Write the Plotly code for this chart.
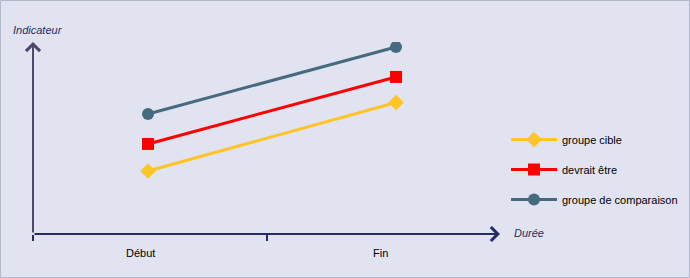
import plotly.graph_objects as go

# ---- data ----
categories = ["Début", "Fin"]
cat_pos = [0, 1]
groupe_cible = [3.28, 6.85]
devrait_etre = [4.69, 8.18]
groupe_comparaison = [6.25, 9.74]
series_names = ["groupe cible", "devrait être", "groupe de comparaison"]

# ---- layout geometry ----
W, H = 690, 278
L, R, T, B = 33, 190, 42, 44
PW, PH = W - L - R, H - T - B
XMIN, XMAX = -0.4637, 1.4194
YMIN, YMAX = 0, 10

def px(x):
    return (x - L) / PW

def py(y):
    return (H - B - y) / PH

NAVY = "#262a66"
GREY = "#4a4a68"
FONT = "Liberation Sans, Arial, sans-serif"

fig = go.Figure()
styles = [
    dict(color="#ffc425", symbol="diamond", size=12),
    dict(color="#ff0000", symbol="square", size=12),
    dict(color="#466a7f", symbol="circle", size=12),
]
for name, vals, st in zip(series_names, [groupe_cible, devrait_etre, groupe_comparaison], styles):
    fig.add_trace(go.Scatter(
        x=cat_pos, y=vals, name=name, mode="lines+markers",
        line=dict(color=st["color"], width=3),
        marker=dict(color=st["color"], symbol=st["symbol"], size=st["size"], line=dict(width=0)),
        legendgroup=name, hoverinfo="skip",
    ))

annotations = [
    # x axis arrow
    dict(x=XMAX, y=YMIN, ax=XMIN, ay=YMIN, xref="x", yref="y", axref="x", ayref="y",
         text="", showarrow=True, arrowhead=4, arrowsize=1.35, arrowwidth=2, arrowcolor=NAVY),
    # y axis arrow
    dict(x=XMIN, y=YMAX, ax=XMIN, ay=YMIN, xref="x", yref="y", axref="x", ayref="y",
         text="", showarrow=True, arrowhead=4, arrowsize=1.35, arrowwidth=2, arrowcolor=GREY),
    dict(x=px(11), y=py(30), xref="paper", yref="paper", xanchor="left", yanchor="middle",
         text="<i>Indicateur</i>", showarrow=False, font=dict(family=FONT, size=11, color=NAVY)),
    dict(x=px(512), y=py(233), xref="paper", yref="paper", xanchor="left", yanchor="middle",
         text="<i>Durée</i>", showarrow=False, font=dict(family=FONT, size=11, color=NAVY)),
]
label_shift = [-8, -15]
for c, p, s in zip(categories, cat_pos, label_shift):
    annotations.append(dict(x=p, y=py(253), xref="x", yref="paper", xshift=s,
                            xanchor="center", yanchor="middle", text=c, showarrow=False,
                            font=dict(family=FONT, size=11, color="#000000")))

fig.update_layout(
    width=W, height=H,
    margin=dict(l=L, r=R, t=T, b=B, pad=0, autoexpand=False),
    paper_bgcolor="#e1e3f0", plot_bgcolor="rgba(0,0,0,0)",
    xaxis=dict(range=[XMIN, XMAX], showgrid=False, zeroline=False, showline=False,
               tickmode="array", tickvals=[XMIN, (XMIN + XMAX) / 2], showticklabels=False,
               ticks="outside", ticklen=6, tickwidth=2, tickcolor=NAVY, fixedrange=True),
    yaxis=dict(range=[YMIN, YMAX], showgrid=False, zeroline=False, showline=False,
               showticklabels=False, ticks="", fixedrange=True),
    showlegend=True,
    legend=dict(x=px(506), y=py(125), xanchor="left", yanchor="top", itemwidth=46,
                bgcolor="rgba(0,0,0,0)", tracegroupgap=11,
                font=dict(family=FONT, size=11, color="#000000")),
    annotations=annotations,
    shapes=[dict(type="rect", xref="paper", yref="paper",
                 x0=px(0.5), x1=px(W - 0.5), y0=py(H - 0.5), y1=py(0.5),
                 line=dict(color="#b4b6cc", width=1), layer="below")],
)

fig.write_html("out.html", config={"displayModeBar": False})
